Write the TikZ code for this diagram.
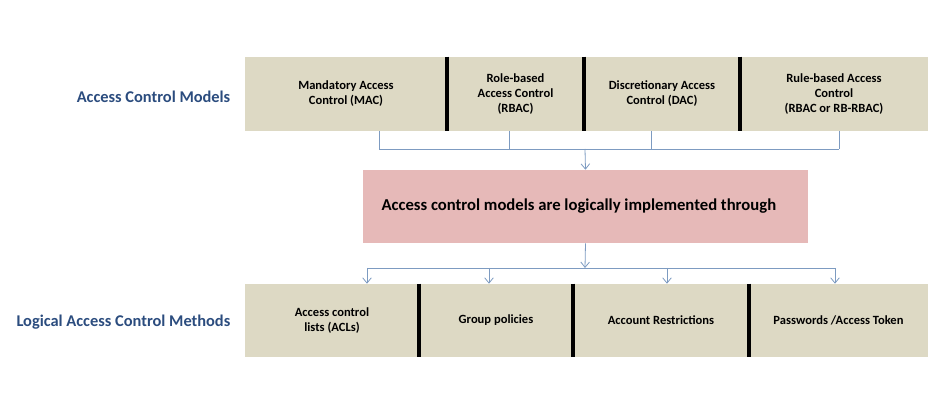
\documentclass[tikz,border=0pt]{standalone}
\usepackage{fontspec}
\setmainfont{Carlito}
\usetikzlibrary{arrows.meta}
\definecolor{tan}{HTML}{DDD9C4}
\definecolor{rose}{HTML}{E6B9B8}
\definecolor{navy}{HTML}{2B4C7E}
\definecolor{wire}{HTML}{7D9BC1}
\tikzset{
  cell/.style={fill=tan, inner sep=0pt, align=center, font=\bfseries\fontsize{9.4}{11.3}\selectfont},
  rowlabel/.style={anchor=east, text=navy, font=\bfseries\fontsize{12.3}{14}\selectfont},
  wire/.style={draw=wire, line width=0.6pt},
  tip/.style={wire, -{Straight Barb[length=4pt,width=6.5pt]}},
  divider/.style={line width=3pt, black}
}
\begin{document}
\begin{tikzpicture}[x=0.75pt,y=-0.75pt]
\useasboundingbox (0,0) rectangle (947,417);
% access control models
  \node[cell, minimum width=151.5pt, minimum height=55.5pt] (m1) at (346,94) {Mandatory Access\\Control (MAC)};
  \node[cell, minimum width=102.75pt, minimum height=55.5pt] (m2) at (515.5,94) {Role-based\\Access Control\\(RBAC)};
  \node[cell, minimum width=117pt, minimum height=55.5pt] (m3) at (662,94) {Discretionary Access\\Control (DAC)};
  \node[cell, minimum width=141pt, minimum height=55.5pt] (m4) at (834,94) {Rule-based Access\\Control\\(RBAC or RB-RBAC)};
  \node[rowlabel] (models) at (235,97) {Access Control Models};
% logical methods
  \node[cell, minimum width=130.5pt, minimum height=54.75pt] (l1) at (332,320.5) {Access control\\lists (ACLs)};
  \node[cell, minimum width=115.5pt, minimum height=54.75pt] (l2) at (496,320.5) {Group policies};
  \node[cell, minimum width=132pt, minimum height=54.75pt] (l3) at (661,320.5) {Account Restrictions};
  \node[cell, minimum width=134.25pt, minimum height=54.75pt] (l4) at (838.5,320.5) {Passwords /Access Token};
  \node[rowlabel] (methods) at (235,322) {Logical Access Control Methods};
% middle box
  \node[fill=rose, minimum width=333.75pt, minimum height=54.75pt, font=\bfseries\fontsize{12.5}{14}\selectfont] (impl) at (585.5,206.5) {Access control models are logically implemented through\hspace*{10pt}};
  \foreach \a/\b in {m1/m2,m2/m3,m3/m4,l1/l2,l2/l3,l3/l4}
    \draw[divider] (\a.north east) -- (\a.south east);
% wiring
  \coordinate (top) at (585,149);
  \coordinate (low) at (585,268);
  \foreach \x/\n in {379/m1,509/m2,651/m3,839/m4}
    \draw[wire] (\x,149 |- \n.south) -- (\x,149);
  \draw[wire] (379,149) -- (839,149);
  \draw[tip] (top) -- (impl.north);
  \draw[tip] (impl.south) -- (low);
  \draw[wire] (367,268) -- (835,268);
  \foreach \x/\n in {367/l1,489/l2,667/l3,835/l4}
    \draw[tip] (\x,268) -- (\x,268 |- \n.north);
\end{tikzpicture}
\end{document}
